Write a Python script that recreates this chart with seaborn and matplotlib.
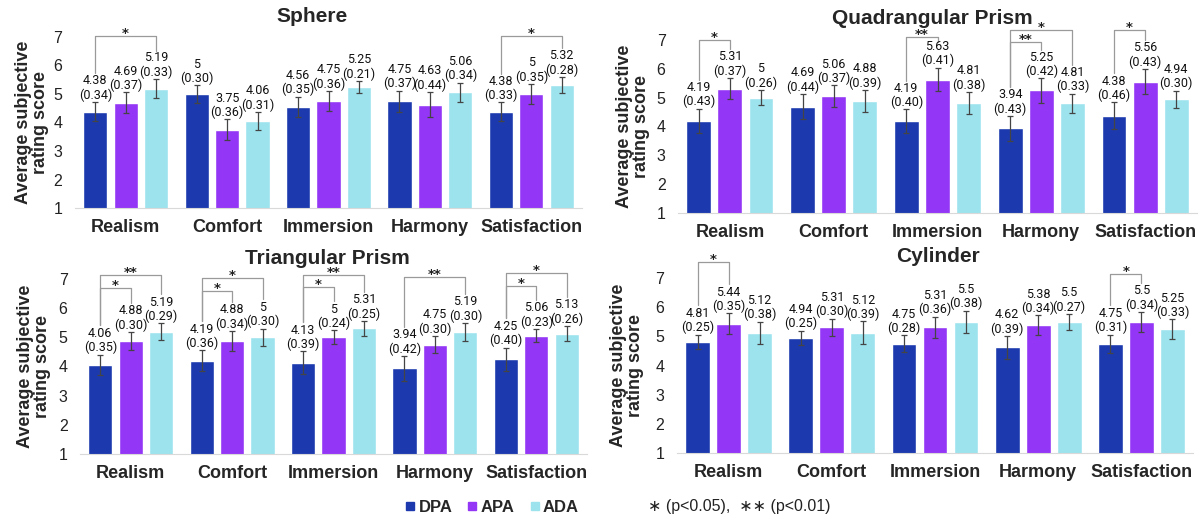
import numpy as np
import pandas as pd
import matplotlib
matplotlib.use("Agg")
import matplotlib.pyplot as plt
from matplotlib.lines import Line2D
import seaborn as sns

sns.set_style("white")
plt.rcParams['font.family'] = ['Liberation Sans', 'DejaVu Sans']

aspects = ["Realism", "Comfort", "Immersion", "Harmony", "Satisfaction"]
methods = ["DPA", "APA", "ADA"]
colors = ["#1c3aae", "#9436f6", "#9de3ee"]

# means and standard errors per method, order of aspects
sphere_dpa = [4.38, 5, 4.56, 4.75, 4.38]
sphere_apa = [4.69, 3.75, 4.75, 4.63, 5]
sphere_ada = [5.19, 4.06, 5.25, 5.06, 5.32]
sphere_dpa_se = [0.34, 0.30, 0.35, 0.37, 0.33]
sphere_apa_se = [0.37, 0.36, 0.36, 0.44, 0.35]
sphere_ada_se = [0.33, 0.31, 0.21, 0.34, 0.28]

quad_dpa = [4.19, 4.69, 4.19, 3.94, 4.38]
quad_apa = [5.31, 5.06, 5.63, 5.25, 5.56]
quad_ada = [5, 4.88, 4.81, 4.81, 4.94]
quad_dpa_se = [0.43, 0.44, 0.40, 0.43, 0.46]
quad_apa_se = [0.37, 0.37, 0.41, 0.42, 0.43]
quad_ada_se = [0.26, 0.39, 0.38, 0.33, 0.30]

tri_dpa = [4.06, 4.19, 4.13, 3.94, 4.25]
tri_apa = [4.88, 4.88, 5, 4.75, 5.06]
tri_ada = [5.19, 5, 5.31, 5.19, 5.13]
tri_dpa_se = [0.35, 0.36, 0.39, 0.42, 0.40]
tri_apa_se = [0.30, 0.34, 0.24, 0.30, 0.23]
tri_ada_se = [0.29, 0.30, 0.25, 0.30, 0.26]

cyl_dpa = [4.81, 4.94, 4.75, 4.62, 4.75]
cyl_apa = [5.44, 5.31, 5.31, 5.38, 5.5]
cyl_ada = [5.12, 5.12, 5.5, 5.5, 5.25]
cyl_dpa_se = [0.25, 0.25, 0.28, 0.39, 0.31]
cyl_apa_se = [0.35, 0.30, 0.36, 0.34, 0.34]
cyl_ada_se = [0.38, 0.39, 0.38, 0.27, 0.33]

# significance brackets: (aspect, bar from, bar to, height, stars)
sphere_sig = [(0, 0, 2, 7.03, "*"), (4, 0, 2, 7.03, "*")]
quad_sig = [(0, 0, 1, 7.0, "*"), (2, 0, 1, 7.12, "**"), (3, 0, 2, 7.35, "*"),
            (3, 0, 1, 6.93, "**"), (4, 0, 1, 7.35, "*")]
tri_sig = [(0, 0, 2, 7.14, "**"), (0, 0, 1, 6.69, "*"), (1, 0, 2, 7.03, "*"),
           (1, 0, 1, 6.6, "*"), (2, 0, 2, 7.14, "**"), (2, 0, 1, 6.72, "*"),
           (3, 0, 2, 7.07, "**"), (4, 0, 2, 7.2, "*"), (4, 0, 1, 6.76, "*")]
cyl_sig = [(0, 0, 1, 7.55, "*"), (4, 0, 1, 7.13, "*")]

W, H = 1199, 517
fig = plt.figure(figsize=(W / 100, H / 100), dpi=100)


def draw_panel(box, title, title_xy, ylab_x, means, ses, sigs):
    l, r, top, bot = box
    ax = fig.add_axes([l / W, 1 - bot / H, (r - l) / W, (bot - top) / H])
    rows = []
    for m, vals in zip(methods, means):
        for a, v in zip(aspects, vals):
            rows.append({"aspect": a, "method": m, "score": v})
    df = pd.DataFrame(rows)
    sns.barplot(data=df, x="aspect", y="score", hue="method", hue_order=methods,
                palette=colors, width=0.9, gap=0.2, errorbar=None, legend=False,
                saturation=1, ax=ax)
    centers = {}
    tops = {}
    bar_conts = list(ax.containers)
    for k, cont in enumerate(bar_conts):
        for i, bar in enumerate(cont):
            x = bar.get_x() + bar.get_width() / 2
            m, s = means[k][i], ses[k][i]
            centers[(i, k)] = x
            tops[(i, k)] = m + s + 0.95
            ax.errorbar(x, m, yerr=s, color="#444444", lw=0.9, capsize=2.2, capthick=0.9)
            ax.text(x, m + s + 0.01, f"{m:g}\n({s:.2f})", ha="center", va="bottom",
                    fontsize=9, family="Roboto", color="#111111", linespacing=1.1)
    for g, a, b, h, lab in sigs:
        x0, x1 = centers[(g, a)], centers[(g, b)]
        y0 = tops[(g, a)] + 0.05
        y1 = min(tops[(g, b)] + 0.05, h - 0.2)
        ax.plot([x0, x0, x1, x1], [y0, h, h, y1], color="#9a9a9a", lw=0.9, clip_on=False)
        ax.text((x0 + x1) / 2, h - 0.04, lab, ha="center", va="baseline", fontsize=9.5,
                fontweight="bold", family="DejaVu Sans", color="#222222")
    ax.set_ylim(1, 7)
    ax.set_xlim(-0.5, 4.5)
    ax.set_yticks(range(1, 8))
    ax.set_xlabel("")
    ax.set_ylabel("")
    ax.tick_params(axis="y", length=0, labelsize=11.5, colors="#222222", pad=9)
    ax.tick_params(axis="x", length=0, labelsize=13, pad=8)
    for t in ax.get_xticklabels():
        t.set_fontweight("bold")
    sns.despine(ax=ax, left=True)
    ax.spines["bottom"].set_color("#d9d9d9")
    fig.text(title_xy[0] / W, 1 - title_xy[1] / H, title, ha="center", va="center",
             fontsize=15, fontweight="bold")
    fig.text(ylab_x / W, 1 - (top + bot) / 2 / H, "Average subjective\nrating score",
             rotation=90, ha="center", va="center", fontsize=13, fontweight="bold",
             linespacing=1.05)
    return ax


draw_panel((75, 582, 37, 208), "Sphere", (312, 17), 32,
           [sphere_dpa, sphere_apa, sphere_ada],
           [sphere_dpa_se, sphere_apa_se, sphere_ada_se], sphere_sig)
draw_panel((678, 1197, 40, 213), "Quadrangular Prism", (932, 18), 633,
           [quad_dpa, quad_apa, quad_ada],
           [quad_dpa_se, quad_apa_se, quad_ada_se], quad_sig)
draw_panel((80, 587, 279, 454), "Triangular Prism", (327, 258), 34,
           [tri_dpa, tri_apa, tri_ada],
           [tri_dpa_se, tri_apa_se, tri_ada_se], tri_sig)
draw_panel((677, 1193, 278, 453), "Cylinder", (938, 257), 627,
           [cyl_dpa, cyl_apa, cyl_ada],
           [cyl_dpa_se, cyl_apa_se, cyl_ada_se], cyl_sig)

handles = [Line2D([], [], marker="s", ls="", color=c, markersize=6) for c in colors]
fig.legend(handles, methods, loc="center", bbox_to_anchor=(492 / W, 1 - 507 / H), ncol=3,
           frameon=False, handlelength=0.6, handletextpad=0.2, columnspacing=0.9,
           prop=dict(weight="bold", size=12))
fig.text(648 / W, 1 - 507 / H, "\u2217 (p<0.05),  \u2217\u2217 (p<0.01)", ha="left", va="center",
         fontsize=11.5, color="#222222")

fig.savefig("out.png", dpi=100)
